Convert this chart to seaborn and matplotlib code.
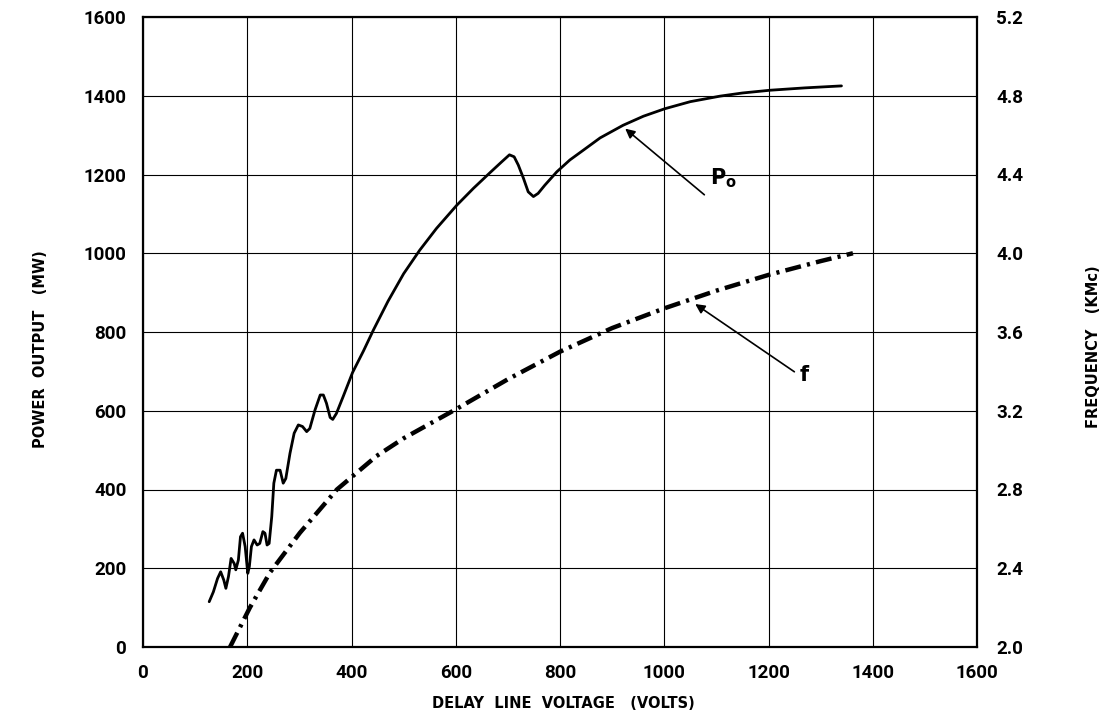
import matplotlib
matplotlib.use('Agg')
import matplotlib.pyplot as plt
import seaborn as sns
import pandas as pd

# Power output curve
po_volts = [127, 135, 143, 149, 155, 159, 164, 169, 175, 178, 183, 187, 191, 196, 201,
            204, 208, 213, 219, 224, 230, 234, 238, 242, 247, 251, 256, 263, 269, 274,
            282, 290, 298, 306, 314, 320, 330, 340, 346, 352, 359, 364, 371, 384, 402,
            423, 442, 470, 500, 531, 563, 602, 634, 666, 688, 703, 712, 720, 730, 739,
            749, 758, 771, 794, 819, 845, 877, 921, 960, 1001, 1050, 1107, 1150, 1203,
            1270, 1340]
po_mw = [115, 140, 174, 191, 170, 149, 179, 225, 212, 196, 221, 280, 289, 255, 187,
         204, 255, 272, 259, 263, 293, 289, 259, 263, 331, 416, 449, 449, 416, 428,
         492, 543, 564, 560, 547, 555, 602, 640, 640, 619, 583, 578, 593, 636, 697,
         752, 805, 878, 948, 1008, 1063, 1122, 1165, 1205, 1232, 1250, 1245, 1224, 1190, 1156,
         1144, 1152, 1173, 1207, 1237, 1262, 1293, 1325, 1348, 1367, 1385, 1399, 1407, 1414,
         1420, 1425]

# Frequency curve
f_volts = [167, 205, 244, 301, 372, 448, 500, 602, 700, 800, 900, 1000, 1100, 1200, 1300, 1362]
f_kmc = [2.00, 2.20, 2.38, 2.58, 2.80, 2.97, 3.06, 3.21, 3.36, 3.50, 3.62, 3.72, 3.81, 3.89, 3.96, 4.00]

x_ticks = [0, 200, 400, 600, 800, 1000, 1200, 1400, 1600]
y_ticks = [0, 200, 400, 600, 800, 1000, 1200, 1400, 1600]
f_ticks = [2.0, 2.4, 2.8, 3.2, 3.6, 4.0, 4.4, 4.8, 5.2]

sns.set_style('white')
plt.rcParams['font.family'] = ['Roboto', 'DejaVu Sans']
plt.rcParams['text.color'] = 'black'
plt.rcParams['xtick.color'] = 'black'
plt.rcParams['ytick.color'] = 'black'
plt.rcParams['axes.labelcolor'] = 'black'

po_df = pd.DataFrame({'volts': po_volts, 'mw': po_mw})
f_df = pd.DataFrame({'volts': f_volts, 'kmc': f_kmc})

fig = plt.figure(figsize=(11.09, 7.22), dpi=100)
ax = fig.add_axes([143 / 1109, 75 / 722, 834 / 1109, 630 / 722])

sns.lineplot(data=po_df, x='volts', y='mw', ax=ax, color='black', linewidth=2.0,
             sort=False, estimator=None)

ax.set_xlim(0, 1600)
ax.set_ylim(0, 1600)
ax.set_xticks(x_ticks)
ax.set_yticks(y_ticks)
ax.grid(True, color='black', linewidth=0.8)
ax.set_axisbelow(True)
ax.set_xlabel('')
ax.set_ylabel('')
ax.tick_params(axis='both', length=0, labelsize=13.5)
ax.tick_params(axis='x', pad=12)
ax.tick_params(axis='y', pad=12)
for lab in ax.get_xticklabels() + ax.get_yticklabels():
    lab.set_fontweight('bold')
for sp in ax.spines.values():
    sp.set_color('black')
    sp.set_linewidth(1.6)

# frequency on the right hand axis
ax2 = ax.twinx()
sns.lineplot(data=f_df, x='volts', y='kmc', ax=ax2, color='black', linewidth=3.2,
             linestyle=(0, (3.6, 1.4, 0.7, 1.4)), sort=False, estimator=None)
ax2.set_ylim(2.0, 5.2)
ax2.set_yticks(f_ticks)
ax2.set_yticklabels(['%.1f' % t for t in f_ticks])
ax2.set_ylabel('')
ax2.tick_params(axis='y', length=0, labelsize=13.5, pad=14)
for lab in ax2.get_yticklabels():
    lab.set_fontweight('bold')
for sp in ax2.spines.values():
    sp.set_visible(False)

# curve labels with leader arrows
ax.annotate('', xy=(921, 1321), xytext=(1081, 1144),
            arrowprops=dict(arrowstyle='-|>', color='black', lw=1.2, mutation_scale=14))
ax.text(1088, 1190, r'$\mathbf{P_o}$', fontsize=15, ha='left', va='center')
ax2.annotate('', xy=(1055, 3.75), xytext=(1254, 3.39),
             arrowprops=dict(arrowstyle='-|>', color='black', lw=1.2, mutation_scale=14))
ax2.text(1260, 3.38, 'f', fontsize=15, fontweight='bold', ha='left', va='center',
         family=['DejaVu Sans'])

fig.text(563 / 1109, 1 - 703 / 722, 'DELAY  LINE  VOLTAGE   (VOLTS)', ha='center', va='center',
         fontsize=10.5, fontweight='bold', family=['DejaVu Sans'])
fig.text(41 / 1109, 1 - 349 / 722, 'POWER  OUTPUT   (MW)', ha='center', va='center',
         rotation=90, fontsize=10.5, fontweight='bold', family=['DejaVu Sans'])
fig.text(1094 / 1109, 1 - 347 / 722, 'FREQUENCY   (KMc)', ha='center', va='center',
         rotation=90, fontsize=10.5, fontweight='bold', family=['DejaVu Sans'])

fig.savefig('out.png', dpi=100)
